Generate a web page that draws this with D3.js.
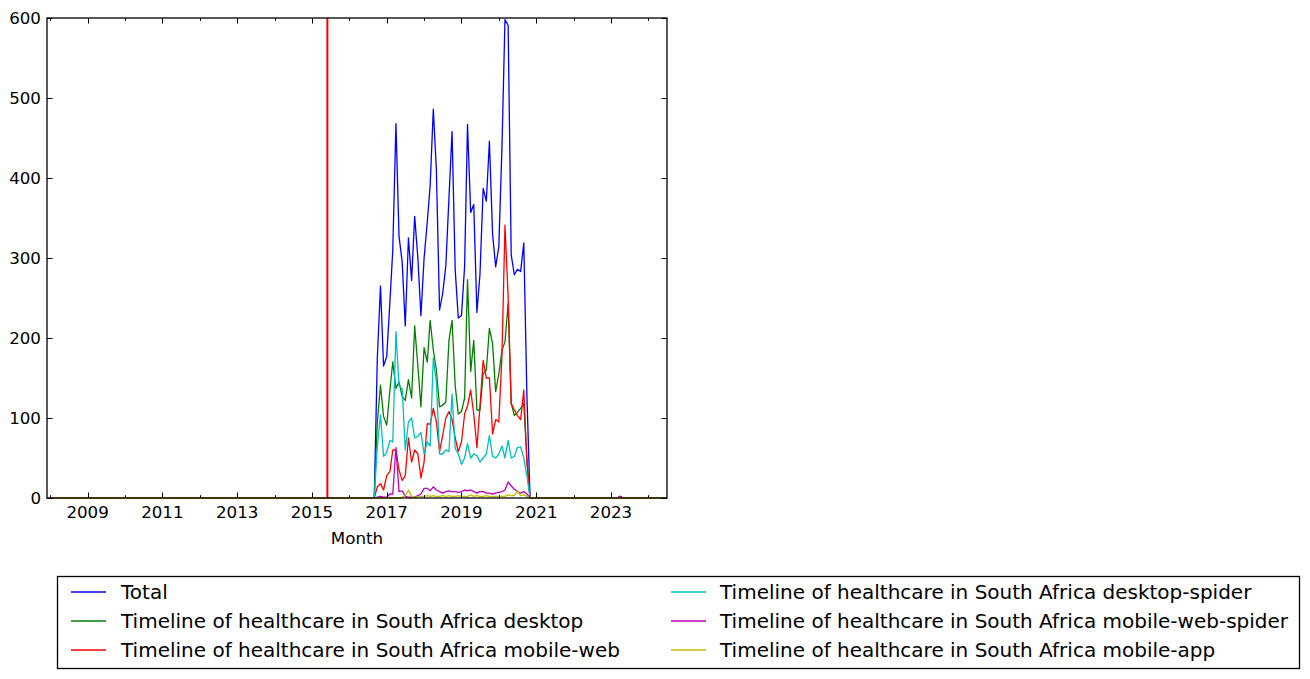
<!DOCTYPE html>
<html><head><meta charset="utf-8">
<script src="https://cdn.jsdelivr.net/npm/d3@7"></script>
<style>
html,body{margin:0;padding:0;background:#fff;}
svg{display:block;font-family:"DejaVu Sans",sans-serif;}
</style></head>
<body>
<svg id="chart" width="1310" height="679"></svg>
<script>
// ---------- DATA ----------
// Monthly pageviews; active window Sep 2016 .. Nov 2020 (one value per month)
const activeStart = "2016-09";
const totalViews      = [0,175,265,165,177,245,310,468,327,295,215,325,272,352,300,228,300,345,390,486,410,235,255,290,375,458,285,225,228,290,467,357,367,232,280,387,371,446,330,289,314,440,598,591,304,279,286,283,319,130,0];
const desktopViews    = [0,95,141,102,91,135,170,137,145,127,122,148,125,215,165,114,188,170,222,185,160,114,116,120,197,222,140,105,108,125,273,158,197,110,110,155,160,212,193,133,155,185,195,243,118,103,107,112,118,50,0];
const mobileWebViews  = [0,14,18,10,28,33,60,60,35,22,28,75,45,60,55,25,45,93,92,112,95,58,78,100,108,98,75,58,70,105,115,135,105,63,115,172,150,150,80,98,95,180,341,252,118,110,103,98,135,45,0];
const desktopSpider   = [0,65,104,52,57,72,70,208,140,137,60,95,100,75,77,82,55,70,65,175,145,55,55,60,58,130,62,55,42,50,68,50,55,53,45,50,55,78,52,50,55,65,50,72,50,52,63,64,50,28,0];
const mobileWebSpider = [0,1,2,1,1,5,5,63,8,9,2,1,1,1,3,5,12,12,9,14,10,8,6,8,9,8,8,7,8,10,9,10,8,6,8,8,6,6,5,6,7,8,10,20,15,11,8,6,8,5,0];
const mobileApp       = [0,0,0,0,0,0,0,0,0,1,3,10,2,1,1,2,2,3,2,3,2,2,3,2,3,2,2,3,2,2,2,4,2,3,2,2,3,2,2,2,2,2,2,4,3,3,9,3,4,2,0];
// isolated later blip (mobile-web-spider / total)
const blipMonth = "2023-04";
const blipTotal = 2, blipSpider = 2;

const seriesNames = ["Total",
  "Timeline of healthcare in South Africa desktop",
  "Timeline of healthcare in South Africa mobile-web",
  "Timeline of healthcare in South Africa desktop-spider",
  "Timeline of healthcare in South Africa mobile-web-spider",
  "Timeline of healthcare in South Africa mobile-app"];
const seriesColors = ["#0000ff","#008000","#ff0000","#00bfbf","#bf00bf","#bfbf00"];
const yTicks = [0,100,200,300,400,500,600];
const xLabelYears = [2009,2011,2013,2015,2017,2019,2021,2023];
const domainStart = "2007-12", domainEnd = "2024-07";
const markerDate = "2015-06";
const xTitle = "Month";

// ---------- BUILD ----------
const parseM = d3.utcParse("%Y-%m");
const allMonths = d3.utcMonth.range(parseM(domainStart), d3.utcMonth.offset(parseM(domainEnd),1));
const startIdx = d3.utcMonth.count(parseM(domainStart), parseM(activeStart));
const blipIdx = d3.utcMonth.count(parseM(domainStart), parseM(blipMonth));
const rawSeries = [totalViews, desktopViews, mobileWebViews, desktopSpider, mobileWebSpider, mobileApp];
const series = rawSeries.map((arr, si) => allMonths.map((d, i) => {
  const k = i - startIdx;
  let v = (k >= 0 && k < arr.length) ? arr[k] : 0;
  if (i === blipIdx) { if (si === 0) v = blipTotal; if (si === 4) v = blipSpider; }
  return {date: d, value: v};
}));

const L = 47, R = 667, T = 18, B = 498;
const svg = d3.select("#chart");
const x = d3.scaleUtc().domain([parseM(domainStart), parseM(domainEnd)]).range([L, R]);
const y = d3.scaleLinear().domain([0, 600]).range([B, T]);

svg.append("defs").append("clipPath").attr("id","clip")
  .append("rect").attr("x",L).attr("y",T-1).attr("width",R-L).attr("height",B-T+2);

const line = d3.line().x(d => x(d.date)).y(d => y(d.value));
const g = svg.append("g").attr("clip-path","url(#clip)");
series.forEach((s, i) => {
  g.append("path").datum(s).attr("d", line).attr("fill","none")
    .attr("stroke", seriesColors[i]).attr("stroke-width",1.3).attr("stroke-linejoin","round");
});
g.append("line").attr("x1",x(parseM(markerDate))).attr("x2",x(parseM(markerDate)))
  .attr("y1",T).attr("y2",B).attr("stroke","#ff0000").attr("stroke-width",2);

// ticks
const years = d3.range(2008, 2025).map(yv => new Date(Date.UTC(yv,0,1))).filter(d => d >= x.domain()[0] && d <= x.domain()[1]);
const tg = svg.append("g").attr("stroke","#000").attr("stroke-width",1);
years.forEach(d => {
  const xx = Math.round(x(d)) + 0.5;
  const major = xLabelYears.includes(d.getUTCFullYear());
  const len = major ? 5.5 : 2.8;
  tg.append("line").attr("x1",xx).attr("x2",xx).attr("y1",B).attr("y2",B-len);
  tg.append("line").attr("x1",xx).attr("x2",xx).attr("y1",T).attr("y2",T+len);
});
yTicks.forEach(v => {
  const yy = Math.round(y(v)) + 0.5;
  tg.append("line").attr("x1",L).attr("x2",L+5.5).attr("y1",yy).attr("y2",yy);
  tg.append("line").attr("x1",R).attr("x2",R-5.5).attr("y1",yy).attr("y2",yy);
});

// frame
svg.append("rect").attr("x",L).attr("y",T).attr("width",R-L).attr("height",B-T)
  .attr("fill","none").attr("stroke","#000").attr("stroke-width",1.3);

// labels
const fs = 16.7;
xLabelYears.forEach(yr => {
  svg.append("text").attr("x", x(new Date(Date.UTC(yr,0,1)))).attr("y", B+20)
    .attr("text-anchor","middle").attr("font-size",fs).text(yr);
});
yTicks.forEach(v => {
  svg.append("text").attr("x", L-6).attr("y", y(v)).attr("dy","0.35em")
    .attr("text-anchor","end").attr("font-size",fs).text(v);
});
svg.append("text").attr("x",(L+R)/2).attr("y",544).attr("text-anchor","middle")
  .attr("font-size",fs).text(xTitle);

// legend
const lg = svg.append("g");
lg.append("rect").attr("x",57.5).attr("y",576.5).attr("width",1242).attr("height",92)
  .attr("fill","#fff").attr("stroke","#000").attr("stroke-width",1.3);
const cols = [{hx:71, tx:121}, {hx:671, tx:720}];
const rows = [592, 621, 650];
const order = [[0,0],[0,1],[0,2],[1,0],[1,1],[1,2]];
seriesNames.forEach((name, i) => {
  const c = cols[order[i][0]], ry = rows[order[i][1]];
  lg.append("line").attr("x1",c.hx).attr("x2",c.hx+35).attr("y1",ry).attr("y2",ry)
    .attr("stroke",seriesColors[i]).attr("stroke-width",1.3);
  lg.append("text").attr("x",c.tx).attr("y",ry).attr("dy","0.35em")
    .attr("font-size",20).text(name);
});
</script>
</body></html>
